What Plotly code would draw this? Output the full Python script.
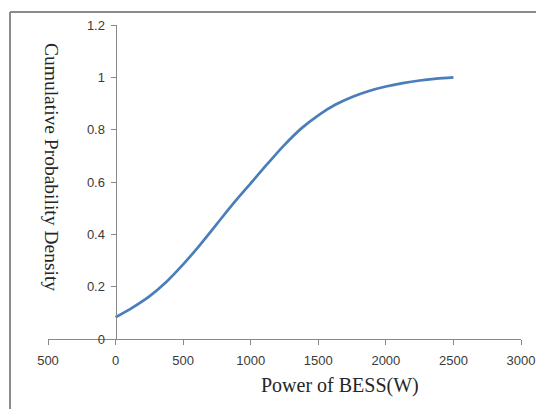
import plotly.graph_objects as go

# Data
power_w = [0, 125, 250, 375, 500, 625, 750, 875, 1000, 1125, 1250, 1375, 1500,
           1625, 1750, 1875, 2000, 2125, 2250, 2375, 2500]
cum_prob = [0.083, 0.12, 0.163, 0.218, 0.285, 0.36, 0.44, 0.52, 0.595, 0.67, 0.742,
            0.805, 0.855, 0.895, 0.925, 0.948, 0.965, 0.978, 0.988, 0.995, 1.0]

x_tick_vals = [-500, 0, 500, 1000, 1500, 2000, 2500, 3000]
x_tick_text = ["500", "0", "500", "1000", "1500", "2000", "2500", "3000"]
y_tick_vals = [0, 0.2, 0.4, 0.6, 0.8, 1.0, 1.2]
y_tick_text = ["0", "0.2", "0.4", "0.6", "0.8", "1", "1.2"]

W, H = 536, 409
L, R, T, B = 48, 15, 25, 70
pw, ph = W - L - R, H - T - B

def fx(px):
    return (px - L) / pw

def fy(py):
    return (H - B - py) / ph

fig = go.Figure()
fig.add_trace(go.Scatter(
    x=power_w, y=cum_prob, mode="lines",
    line=dict(color="#4A7EBB", width=2.7, shape="spline", smoothing=0.8),
    showlegend=False, hoverinfo="skip"))

axis_font = dict(family="Liberation Sans, Arial, sans-serif", size=13, color="#3a3a3a")

fig.update_layout(
    width=W, height=H,
    margin=dict(l=L, r=R, t=T, b=B, autoexpand=False),
    paper_bgcolor="white", plot_bgcolor="white",
    xaxis=dict(
        range=[-500, 3000], tickvals=x_tick_vals, ticktext=x_tick_text,
        showgrid=False, zeroline=False, showline=True, linecolor="#888888", linewidth=1,
        ticks="outside", ticklen=5, tickcolor="#888888", tickfont=axis_font,
        ticklabelstandoff=4,
        anchor="y", fixedrange=True, automargin=False,
    ),
    yaxis=dict(
        range=[0, 1.2], tickvals=y_tick_vals, ticktext=y_tick_text,
        showgrid=False, zeroline=False, showline=True, linecolor="#888888", linewidth=1,
        ticks="outside", ticklen=5, tickcolor="#888888", tickfont=axis_font,
        ticklabelstandoff=3,
        anchor="free", position=500 / 3500, fixedrange=True, automargin=False,
    ),
    font=dict(family="Liberation Serif, Times New Roman, serif"),
)

# Outer frame (left and top edges visible)
frame_color = "#8c8c8c"
fig.add_shape(type="line", xref="paper", yref="paper",
              x0=fx(10), x1=fx(10), y0=fy(12), y1=fy(H + 5),
              line=dict(color=frame_color, width=2))
fig.add_shape(type="line", xref="paper", yref="paper",
              x0=fx(10), x1=fx(W + 5), y0=fy(12), y1=fy(12),
              line=dict(color=frame_color, width=2))

# Axis titles
fig.add_annotation(text="Cumulative Probability Density", xref="paper", yref="paper",
                   x=fx(52), y=fy(167), xanchor="center", yanchor="middle",
                   showarrow=False, textangle=90,
                   font=dict(family="Liberation Serif, Times New Roman, serif", size=19.5, color="#262626"))
fig.add_annotation(text="Power of BESS(W)", xref="paper", yref="paper",
                   x=fx(340), y=fy(385), xanchor="center", yanchor="middle",
                   showarrow=False,
                   font=dict(family="Liberation Serif, Times New Roman, serif", size=20, color="#262626"))

fig.write_html("out.html",
               config={"displayModeBar": False, "staticPlot": True},
               post_script="document.body.style.margin='0';document.body.style.overflow='hidden';")
